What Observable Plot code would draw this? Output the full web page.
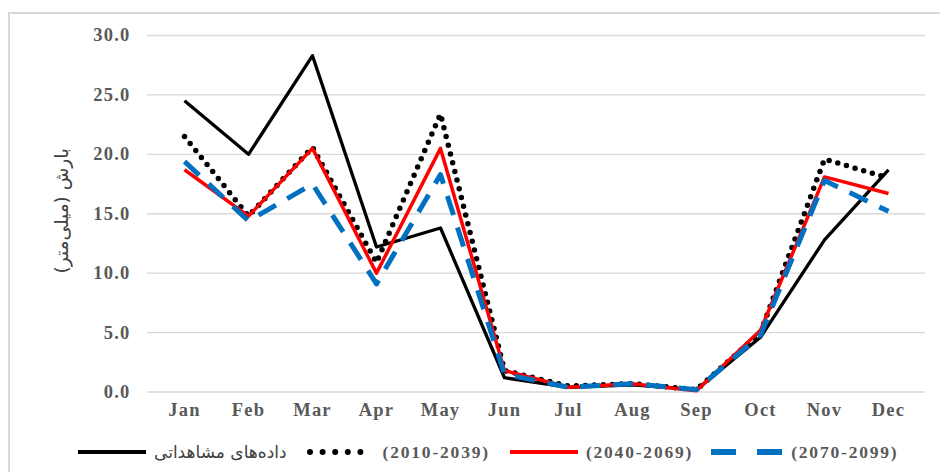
<!DOCTYPE html>
<html><head><meta charset="utf-8">
<script src="https://cdn.jsdelivr.net/npm/d3@7"></script>
<script src="https://cdn.jsdelivr.net/npm/@observablehq/plot@0.6"></script>
<style>
body{margin:0;background:#fff;width:940px;height:472px;overflow:hidden;position:relative}
#frame{position:absolute;left:8px;top:12px;width:1000px;height:500px;border:2px solid #d9d9d9;box-sizing:border-box}
#chart{position:absolute;left:0;top:0}
#legend{position:absolute;left:78px;top:440px;height:24px;display:flex;align-items:center;white-space:nowrap}
.sw{display:block}
.lt{font-family:"Liberation Serif",serif;font-weight:bold;font-size:17.5px;letter-spacing:1.8px;color:#595959}
.fa{font-family:"DejaVu Sans",sans-serif;font-size:17px;color:#404040}
</style></head>
<body>
<div id="frame"></div>
<div id="chart"></div>
<div id="legend"></div>
<script>
const months = ["Jan","Feb","Mar","Apr","May","Jun","Jul","Aug","Sep","Oct","Nov","Dec"];
const seriesNames = ["داده‌های مشاهداتی","(2010-2039)","(2040-2069)","(2070-2099)"];
const observed = [24.5,20.0,28.3,12.2,13.8,1.2,0.4,0.6,0.2,4.6,12.8,18.7];
const p2010 = [21.5,14.8,20.6,10.9,23.4,1.8,0.5,0.7,0.2,5.0,19.6,18.0];
const p2040 = [18.7,14.8,20.5,10.0,20.5,1.8,0.4,0.7,0.1,5.2,18.1,16.7];
const p2070 = [19.4,14.4,17.5,9.1,18.3,1.5,0.4,0.7,0.2,4.8,17.8,15.2];
const yTicks = [0,5,10,15,20,25,30];
const yLabel = "\u200Fبارش (میلی‌متر)\u200F";

const styles = [
  {stroke:"#000000", strokeWidth:3.3, dash:null, cap:"butt"},
  {stroke:"#000000", strokeWidth:5.5, dash:"0 9", cap:"round"},
  {stroke:"#ff0000", strokeWidth:3.5, dash:null, cap:"butt"},
  {stroke:"#0070c0", strokeWidth:5, dash:"20 13", cap:"butt"}
];
const allSeries = [observed,p2010,p2040,p2070];
const tables = allSeries.map(vals => months.map((m,i)=>({month:m, value:vals[i]})));

const chart = Plot.plot({
  width:940, height:430,
  marginLeft:147, marginRight:15, marginTop:35, marginBottom:38.5,
  style:{fontFamily:"'Liberation Serif', serif", background:"transparent", overflow:"visible"},
  x:{type:"point", domain:months, padding:0.5},
  y:{domain:[0,30]},
  marks:[
    Plot.ruleY(yTicks, {stroke:"#d9d9d9", strokeWidth:1.3}),
    Plot.axisX({tickSize:0, tickPadding:11, label:null, fontSize:18.5, fontWeight:"bold", fill:"#595959"}),
    Plot.axisY({ticks:yTicks, tickSize:0, tickPadding:17, tickFormat:d3.format(".1f"), fontSize:18.5, fontWeight:"bold", fill:"#595959", label:null}),
    Plot.text([yLabel], {frameAnchor:"left", dx:-85, dy:-3, rotate:-90, fontSize:18.5, fontFamily:"DejaVu Sans", fill:"#404040", textAnchor:"middle"}),
    ...tables.map((t,i)=>Plot.line(t, {x:"month", y:"value", stroke:styles[i].stroke, strokeWidth:styles[i].strokeWidth, strokeDasharray:styles[i].dash, strokeLinecap:styles[i].cap, strokeLinejoin:"round"}))
  ]
});
chart.querySelectorAll("text").forEach(t=>{ if(t.textContent.match(/[0-9A-Za-z]/)) t.setAttribute("letter-spacing","1.2"); });
document.getElementById("chart").appendChild(chart);

// legend
const leg = document.getElementById("legend");
const swatches = [
  `<svg class="sw" width="68" height="10"><line x1="0" y1="5" x2="68" y2="5" stroke="#000" stroke-width="4"/></svg>`,
  `<svg class="sw" width="68" height="10"><line x1="3" y1="5" x2="66" y2="5" stroke="#000" stroke-width="6" stroke-dasharray="0 12.6" stroke-linecap="round"/></svg>`,
  `<svg class="sw" width="68" height="10"><line x1="0" y1="5" x2="68" y2="5" stroke="#ff0000" stroke-width="4"/></svg>`,
  `<svg class="sw" width="72" height="10"><line x1="0" y1="5" x2="72" y2="5" stroke="#0070c0" stroke-width="6" stroke-dasharray="25 21"/></svg>`
];
const gaps = [20,20,18,0];
seriesNames.forEach((name,i)=>{
  const item = document.createElement("div");
  item.style.display="flex"; item.style.alignItems="center"; item.style.marginRight=gaps[i]+"px";
  item.innerHTML = swatches[i] + `<span class="${i===0?'fa':'lt'}" ${i===0?'dir="rtl"':''} style="margin-left:8px">${name}</span>`;
  leg.appendChild(item);
});
</script>
</body></html>
